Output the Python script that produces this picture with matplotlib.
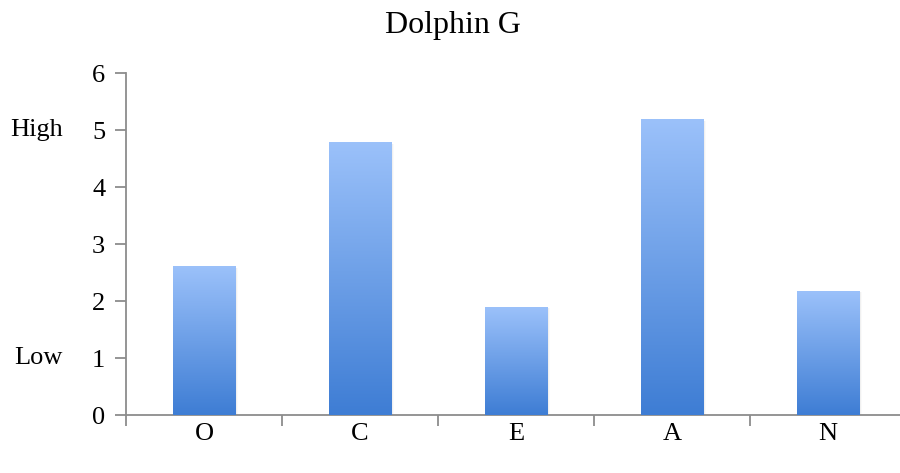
import numpy as np
import matplotlib
matplotlib.use("Agg")
import matplotlib.pyplot as plt
from matplotlib.colors import LinearSegmentedColormap
from matplotlib.patches import Rectangle

categories = ["O", "C", "E", "A", "N"]
scores = [2.60, 4.78, 1.88, 5.19, 2.16]
y_ticks = [0, 1, 2, 3, 4, 5, 6]
side_labels = {"High": 5, "Low": 1}
title = "Dolphin G"

plt.rcParams["font.family"] = ["Liberation Serif", "DejaVu Serif"]

fig = plt.figure(figsize=(9, 4.73), dpi=100)
ax = fig.add_axes([126 / 900, 1 - 415 / 473, 780 / 900, 342 / 473])

grad = LinearSegmentedColormap.from_list("barfill", ["#3E7DD4", "#9BC1FA"])
x = np.arange(len(categories))
bars = ax.bar(x, scores, width=0.40, color="none", edgecolor="none", zorder=2)

ramp = np.linspace(0, 1, 256).reshape(-1, 1)
for b in bars:
    x0, w, h = b.get_x(), b.get_width(), b.get_height()
    # soft shadow on the right side
    for i, a in enumerate([0.10, 0.06, 0.03]):
        ax.add_patch(Rectangle((x0 + w, 0), 0.006 * (i + 1), h * 0.995,
                               facecolor="#606060", alpha=a, edgecolor="none",
                               zorder=1))
    ax.imshow(ramp, cmap=grad, origin="lower", aspect="auto",
              extent=[x0, x0 + w, 0, h], zorder=3, interpolation="bilinear")

ax.set_xlim(-0.5, len(categories) - 0.5)
ax.set_ylim(0, 6)

for s in ["top", "right"]:
    ax.spines[s].set_visible(False)
for s in ["left", "bottom"]:
    ax.spines[s].set_color("#8c8c8c")
    ax.spines[s].set_linewidth(1.3)

ax.set_yticks(y_ticks)
ax.set_yticklabels([str(v) for v in y_ticks])
ax.tick_params(axis="y", direction="out", length=8, width=1.3, color="#8c8c8c",
               labelsize=19, pad=7)

ax.set_xticks(np.arange(-0.5, len(categories)), minor=False)
ax.set_xticklabels([])
ax.set_xticks(x, minor=True)
ax.set_xticklabels(categories, minor=True)
ax.tick_params(axis="x", which="major", direction="out", length=8, width=1.3,
               color="#8c8c8c")
ax.tick_params(axis="x", which="minor", length=0, labelsize=19, pad=6)

for txt, yv in side_labels.items():
    ax.annotate(txt, xy=(0, yv), xycoords=("axes fraction", "data"),
                xytext=(-45.5, 0), textcoords="offset points",
                ha="right", va="center", fontsize=19)

fig.text(0.5 + 3 / 900, 1 - 26 / 473, title, ha="center", va="center", fontsize=23)

fig.savefig("out.png", dpi=100)
